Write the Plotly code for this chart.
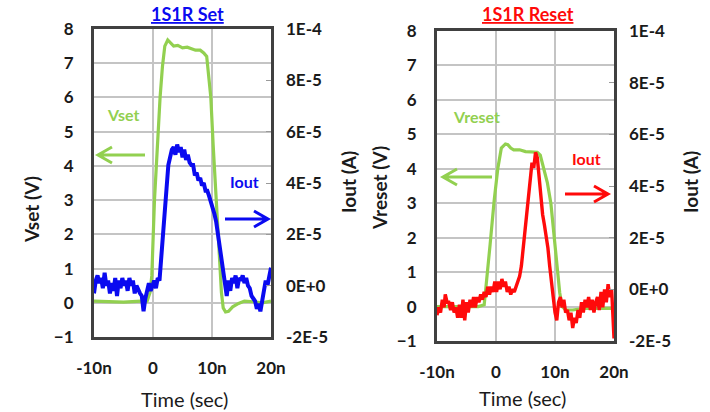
import plotly.graph_objects as go

# ---------------- data ----------------
# Time in ns
vset_t = [-10, -8, -5, -2, -1.0, -0.5, -0.2, 0.25, 0.7, 1.2, 1.6, 2.0, 2.5, 2.9, 3.5, 4.2, 5.0, 5.8,
          6.5, 7.2, 8.0, 8.6, 9.1, 9.5, 9.8, 10.2, 10.6, 11.0, 11.3, 11.6, 11.9, 12.3, 12.8, 13.5,
          14.5, 15.5, 17, 18.5, 20]
vset_v = [0.05, 0.03, 0.02, 0.05, 0.05, 0.3, 0.8, 3.0, 4.6, 6.0, 6.9, 7.5, 7.68, 7.6, 7.5, 7.52, 7.45, 7.47,
          7.42, 7.38, 7.38, 7.3, 7.2, 6.6, 6.0, 4.6, 3.4, 2.2, 1.0, 0.3, -0.15, -0.27, -0.25, -0.12,
          -0.02, 0.05, 0.03, 0.0, 0.05]

iset_t = [-10.0, -9.7, -9.4, -9.1, -8.8, -8.5, -8.2, -7.9, -7.6, -7.3, -7.0, -6.7, -6.4, -6.1, -5.8,
          -5.5, -5.2, -4.9, -4.6, -4.3, -4.0, -3.7, -3.4, -3.1, -2.8, -2.5, -2.2, -1.9, -1.6, -1.3,
          -1.0, -0.7, -0.4, -0.1, 0.2, 0.5, 0.8, 1.1, 1.4, 1.7, 2.0, 2.3, 2.6, 2.9, 3.2, 3.5, 3.8,
          4.1, 4.4, 4.7, 5.0, 5.3, 5.6, 5.9, 6.2, 6.5, 6.8, 7.1, 7.4, 7.7, 8.0, 8.3, 8.6, 8.9, 9.2,
          9.5, 9.8, 10.1, 10.4, 10.7, 11.0, 11.3, 11.6, 11.9, 12.2, 12.5, 12.8, 13.1, 13.4, 13.7,
          14.0, 14.3, 14.6, 14.9, 15.2, 15.5, 15.8, 16.1, 16.4, 16.7, 17.0, 17.3, 17.6, 17.9, 18.2,
          18.5, 18.8, 19.1, 19.4, 19.7, 20.0]
iset_uA = [-3, 2, 4, 1, 3, -1, 5, 0, 2, -3, 1, -2, 3, -4, 2,
           -1, 3, 0, 2, -2, 3, 0, 2, -3, 0, -2, -3, -4, -10, -5,
           -1, 1, -2, 0, 2, -1, 3, 2, 10, 20, 30, 38, 47, 51, 53, 54, 51,
           55, 52, 54, 50, 53, 49, 51, 48, 47, 47, 43, 44, 41, 42, 39, 40, 37, 37,
           35, 33, 30, 28, 25, 20, 14, 10, 5, 0, -4, 2, -2, 3, 1,
           4, -1, 3, 2, 4, 1, 3, 0, -1, -4, -5, -6, -9, -7, -10,
           -6, -2, 2, 0, 4, 7]

vreset_t = [-10, -6, -3, -2.0, -1.75, -1.0, -0.3, 0.3, 0.9, 1.6, 2.0, 2.5, 3.0, 4.0, 5.0, 6.0, 7.0,
            7.5, 8.0, 8.7, 9.3, 9.9, 10.4, 10.8, 11.2, 11.8, 13, 15, 17, 20]
vreset_v = [0.0, 0.0, 0.0, 0.05, 0.45, 1.8, 3.1, 4.0, 4.6, 4.72, 4.7, 4.6, 4.55, 4.55, 4.5, 4.48, 4.48,
            4.4, 4.1, 3.6, 3.0, 2.0, 1.1, 0.4, 0.0, -0.1, -0.1, -0.05, -0.05, -0.05]

ireset_t = [-10.0, -9.7, -9.4, -9.1, -8.8, -8.6, -8.3, -8.0, -7.7, -7.4, -7.1, -6.8, -6.5, -6.2, -5.9,
            -5.6, -5.3, -5.0, -4.7, -4.4, -4.1, -3.8, -3.5, -3.2, -2.9, -2.6, -2.3, -2.0, -1.7, -1.4,
            -1.1, -0.8, -0.5, -0.2, 0.1, 0.4, 0.7, 1.0, 1.3, 1.6, 1.9, 2.2, 2.5, 2.8, 3.1, 3.4, 3.7,
            4.0, 4.3, 4.6, 4.9, 5.2, 5.5, 5.8, 6.1, 6.4, 6.7, 7.0, 7.3, 7.6, 7.9, 8.2, 8.5, 8.8, 9.1,
            9.4, 9.7, 10.0, 10.3, 10.6, 10.9, 11.2, 11.5, 11.8, 12.1, 12.4, 12.7, 13.0, 13.3, 13.6,
            13.9, 14.2, 14.5, 14.8, 15.1, 15.4, 15.7, 16.0, 16.3, 16.6, 16.9, 17.2, 17.5, 17.8, 18.1,
            18.4, 18.7, 19.0, 19.3, 19.6, 19.8, 20.0]
ireset_uA = [-10, -7, -9, -4, -7, -2, -5, -5, -8, -5, -9, -7, -11, -6, -11,
             -4, -12, -5, -9, -4, -7, -3, -7, -3, -5, -2, -4, -1, -3, 1,
             -2, 1, -1, 3, -1, 3, 0, 4, 1, 3, -1, 1, -2, 0, -1, 1, 3,
             5, 9, 16, 24, 31, 35, 44, 49, 47, 53, 51, 44, 35, 29, 25, 21, 16, 9,
             4, -3, -9, -12, -5, -3, -7, -4, -9, -8, -12, -9, -15, -11, -13,
             -8, -11, -5, -9, -4, -7, -3, -8, -4, -9, -5, -3, -8, -1, -7,
             0, -5, 2, -3, 0, -7, -19]

x_tickvals = [-10, 0, 10, 20]
x_ticktext = ["-10n", "0", "10n", "20n"]
v_tickvals = [-1, 0, 1, 2, 3, 4, 5, 6, 7, 8]
i_tickvals = [-2e-5, 0, 2e-5, 4e-5, 6e-5, 8e-5, 1e-4]
i_ticktext = ["-2E-5", "0E+0", "2E-5", "4E-5", "6E-5", "8E-5", "1E-4"]

# ---------------- style ----------------
W, H = 710, 412
GREEN = "#92d050"
BLUE = "#0a0af0"
RED = "#ff0a0a"
FONT = "Lato"
TXT = "#1a1a1a"


def px(x):
    return x / W


def py(y):
    return 1 - y / H


fig = go.Figure()
fig.add_trace(go.Scatter(x=vset_t, y=vset_v, mode="lines", line=dict(color=GREEN, width=3.2),
                         xaxis="x", yaxis="y", showlegend=False))
fig.add_trace(go.Scatter(x=iset_t, y=[v * 1e-6 for v in iset_uA], mode="lines",
                         line=dict(color=BLUE, width=4), xaxis="x", yaxis="y2", showlegend=False))
fig.add_trace(go.Scatter(x=vreset_t, y=vreset_v, mode="lines", line=dict(color=GREEN, width=3.2),
                         xaxis="x3", yaxis="y3", showlegend=False))
fig.add_trace(go.Scatter(x=ireset_t, y=[v * 1e-6 for v in ireset_uA], mode="lines",
                         line=dict(color=RED, width=3.4), xaxis="x3", yaxis="y4", showlegend=False))

tickfont = dict(family=FONT, size=17, color=TXT, weight="bold")
grid = "#c4c4c4"
border = "#404040"


def xax(domain, anchor):
    return dict(domain=domain, anchor=anchor, range=[-10, 20], tickvals=x_tickvals, ticktext=x_ticktext,
                tickfont=tickfont, showgrid=True, gridcolor=grid, gridwidth=1.5, zeroline=False,
                showline=True, linecolor=border, linewidth=3, mirror=True, ticks="",
                ticklabelstandoff=14, automargin=False)


def yax(domain, anchor):
    return dict(domain=domain, anchor=anchor, range=[-1, 8], tickvals=v_tickvals, tickfont=tickfont,
                showgrid=True, gridcolor=grid, gridwidth=1.5, zeroline=False, showline=True,
                linecolor=border, linewidth=3, mirror=True, ticks="", ticklabelstandoff=14,
                automargin=False)


def y2ax(overlay, anchor):
    return dict(overlaying=overlay, anchor=anchor, side="right", range=[-2e-5, 1e-4],
                tickvals=i_tickvals, ticktext=i_ticktext, tickfont=tickfont, showgrid=False,
                zeroline=False, showline=False, ticks="inside", ticklen=5, tickcolor="#9a9a9a",
                ticklabelstandoff=14, automargin=False)


fig.update_layout(
    width=W, height=H, margin=dict(l=0, r=0, t=0, b=0),
    paper_bgcolor="white", plot_bgcolor="white",
    xaxis=xax([px(94), px(271)], "y"),
    yaxis=yax([py(337), py(29)], "x"),
    yaxis2=y2ax("y", "x"),
    xaxis3=xax([px(437), px(614)], "y3"),
    yaxis3=yax([py(341), py(31)], "x3"),
    yaxis4=y2ax("y3", "x3"),
)

ann = []


def label(x, y, text, color, size, angle=0, bold=True):
    ann.append(dict(x=px(x), y=py(y), xref="paper", yref="paper", text=text, showarrow=False,
                    textangle=angle, xanchor="center", yanchor="middle",
                    font=dict(family=FONT, size=size, color=color, weight="bold" if bold else "normal")))


label(187, 14, "<u>1S1R Set</u>", BLUE, 18)
label(528, 14, "<u>1S1R Reset</u>", RED, 18)
label(184, 399, "Time (sec)", TXT, 20, bold=False)
label(522, 398, "Time (sec)", TXT, 20, bold=False)
label(31, 209, "Vset (V)", TXT, 19, angle=-90)
label(348, 182, "Iout (A)", TXT, 19, angle=-90)
label(379, 188, "Vreset (V)", TXT, 19, angle=-90)
label(690, 182, "Iout (A)", TXT, 19, angle=-90)
label(123, 114, "Vset", GREEN, 16)
label(244, 181, "Iout", BLUE, 16)
label(476, 116, "Vreset", GREEN, 16)
label(586, 158, "Iout", RED, 16)

shapes = []


def arrow(tail, tip, y, color):
    d = 1 if tip > tail else -1
    path = (f"M {px(tail)},{py(y)} L {px(tip)},{py(y)} "
            f"M {px(tip - d * 14)},{py(y - 8)} L {px(tip)},{py(y)} L {px(tip - d * 14)},{py(y + 8)}")
    shapes.append(dict(type="path", xref="paper", yref="paper", path=path,
                       line=dict(color=color, width=3)))


arrow(145, 98, 155, GREEN)
arrow(225, 268, 219, BLUE)
arrow(492, 443, 177, GREEN)
arrow(565, 608, 194, RED)

fig.update_layout(annotations=ann, shapes=shapes)
fig.write_html("out.html")
